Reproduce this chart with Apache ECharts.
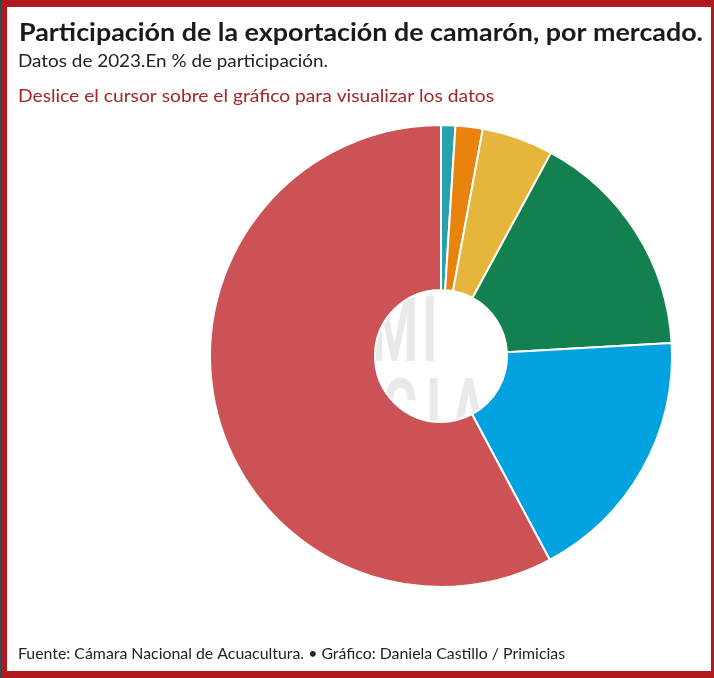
<!DOCTYPE html>
<html>
<head>
<meta charset="utf-8">
<script src="https://cdn.jsdelivr.net/npm/echarts@6/dist/echarts.min.js"></script>
<style>
html,body{margin:0;padding:0;background:#fff;overflow:hidden;}
#frame{position:absolute;left:0;top:0;width:714px;height:678px;background:#b11a1c;}
#edge{position:absolute;left:0;top:0;width:2px;height:678px;background:#27505b;}
#paper{position:absolute;left:7px;top:7px;width:704px;height:664px;background:#fff;}
#wm{position:absolute;left:0;top:0;width:714px;height:678px;clip-path:circle(66px at 441px 356px);}
#wm div{position:absolute;font:bold 90px Roboto, sans-serif;line-height:90px;color:#e9e9e9;white-space:nowrap;}
#chart{position:absolute;left:0;top:0;width:714px;height:678px;}
</style>
</head>
<body>
<div id="frame"></div>
<div id="edge"></div>
<div id="paper"></div>
<div id="wm">
  <div style="right:273px;top:286px;transform:scaleX(0.6);transform-origin:right top;letter-spacing:6px;">PRIMI</div>
  <div style="left:382px;top:368px;transform:scaleX(0.6);transform-origin:left top;letter-spacing:14px;">CIAS</div>
</div>
<div id="chart"></div>
<script>
// Data, clockwise from 12 o'clock
var markets = ['Otros', 'Asia (otros)', 'América', 'Europa', 'Estados Unidos', 'China'];
var shares  = [1.0, 1.9, 5.0, 16.2, 18.1, 57.8];
var colors  = ['#2a9fad', '#e8830e', '#e5b63b', '#13804f', '#00a3df', '#cc5256'];

var titleText = 'Participación de la exportación de camarón, por mercado.';
var subText = 'Datos de 2023.En % de participación.';
var hintText = 'Deslice el cursor sobre el gráfico para visualizar los datos';
var sourceText = 'Fuente: Cámara Nacional de Acuacultura. • Gráfico: Daniela Castillo / Primicias';

var cv = document.createElement('canvas').getContext('2d');
function fit(font, text, w){ cv.font = font; return w / cv.measureText(text).width; }

var FONT = 'Lato, "Open Sans", sans-serif';
function txt(text, font, fill, left, cy, right){
  return {type:'text', x:left, y:cy, scaleX: fit(font, text, right-left), z:10,
    style:{text:text, font:font, fill:fill, align:'left', verticalAlign:'middle'}};
}

var chart = echarts.init(document.getElementById('chart'), null, {renderer:'canvas'});
var data = markets.map(function(m,i){ return {name:m, value:shares[i], itemStyle:{color:colors[i]}}; });

chart.setOption({
  animation:false,
  backgroundColor:'transparent',
  tooltip:{trigger:'item', formatter:'{b}: {c}%'},
  graphic:[
    txt(titleText, 'bold 25px ' + FONT, '#1a1a1a', 19, 33, 703),
    txt(subText, '17px ' + FONT, '#222', 18, 62, 328),
    txt(hintText, '17px ' + FONT, '#a3272a', 18, 97, 494),
    txt(sourceText, '15px ' + FONT, '#222', 18, 654, 565)
  ],
  series:[{
    type:'pie',
    center:[441, 356],
    radius:[66, 231],
    startAngle:90,
    clockwise:true,
    avoidLabelOverlap:false,
    label:{show:false},
    labelLine:{show:false},
    emphasis:{scale:false},
    itemStyle:{borderColor:'#fff', borderWidth:2},
    data:data
  }]
});
</script>
</body>
</html>
